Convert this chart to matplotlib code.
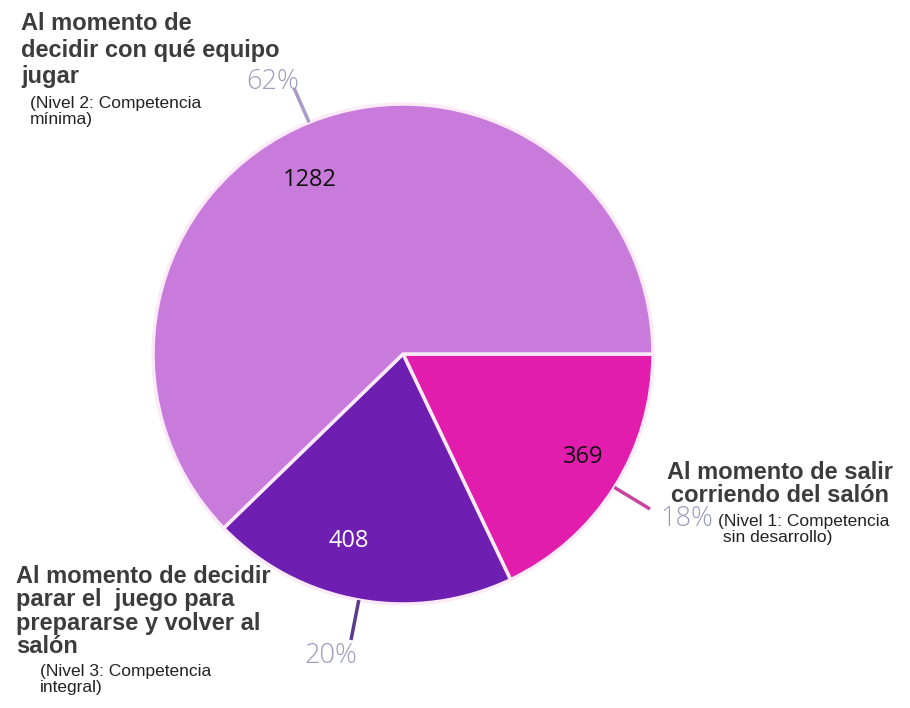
import numpy as np
import matplotlib
matplotlib.use("Agg")
import matplotlib.pyplot as plt

# Data
values = [369, 408, 1282]
pct_labels = ["18%", "20%", "62%"]
titles = ["Al momento de salir\ncorriendo del salón",
          "Al momento de decidir\nparar el  juego para\nprepararse y volver al\nsalón",
          "Al momento de\ndecidir con qué equipo\njugar"]
subtitles = ["(Nivel 1: Competencia\n sin desarrollo)",
             "(Nivel 3: Competencia\nintegral)",
             "(Nivel 2: Competencia\nmínima)"]
colors = ["#E21DAE", "#6E1EB0", "#C97BDC"]
line_colors = ["#C8459E", "#5E3A8E", "#A99BC8"]
value_colors = ["#111111", "#FFFFFF", "#111111"]

W, H = 910, 708
fig = plt.figure(figsize=(W / 100, H / 100), dpi=100)
ax = fig.add_axes([0, 0, 1, 1])

cx, cy, R = 403, H - 354, 250
wedges, _ = ax.pie(values, startangle=0, counterclock=False, colors=colors,
                   center=(cx, cy), radius=R,
                   wedgeprops=dict(edgecolor="#FCEAF8", linewidth=2.5))
ax.set_xlim(0, W)
ax.set_ylim(0, H)
ax.set_aspect("equal")
ax.axis("off")

# value labels inside wedges
val_offsets = [2.5, -6, 6]  # degrees of tweak
val_r = [0.83, 0.78, 0.79]
for i, w in enumerate(wedges):
    mid = np.deg2rad((w.theta1 + w.theta2) / 2 + val_offsets[i])
    ax.text(cx + val_r[i] * R * np.cos(mid), cy + val_r[i] * R * np.sin(mid),
            str(values[i]), ha="center", va="center", fontsize=17,
            color=value_colors[i], family="Open Sans")

# leader lines and percentage labels
pct_pos = [(687, H - 519), (331, H - 656), (273, H - 82)]
line_end = [(650, H - 509), (351, H - 640), (294, H - 88)]
for i, w in enumerate(wedges):
    mid = np.deg2rad((w.theta1 + w.theta2) / 2)
    sx, sy = cx + R * np.cos(mid), cy + R * np.sin(mid)
    ax.plot([sx, line_end[i][0]], [sy, line_end[i][1]], color=line_colors[i], lw=2.5,
            solid_capstyle="butt")
    ax.text(pct_pos[i][0], pct_pos[i][1], pct_labels[i], ha="center", va="center",
            fontsize=19.5, color="#9C9CBD", family="Open Sans", fontweight="light")

tc = "#3C3C3C"
tfs = 17
# titles
ax.text(780, H - 461, titles[0], ha="center", va="top", fontsize=tfs, fontweight="bold",
        color=tc, family="Liberation Sans", linespacing=1.02)
ax.text(16, H - 565, titles[1], ha="left", va="top", fontsize=tfs, fontweight="bold",
        color=tc, family="Liberation Sans", linespacing=1.02)
for k, line in enumerate(titles[2].split("\n")):
    ax.text(21, H - (30 + 26.5 * k), line, ha="left", va="baseline", fontsize=tfs,
            fontweight="bold", color=tc, family="Liberation Sans")
# subtitles
sfs = 12.5
ax.text(718, H - 514, subtitles[0], ha="left", va="top", fontsize=sfs,
        color="#222222", family="Liberation Sans", linespacing=1.1)
ax.text(40, H - 664, subtitles[1], ha="left", va="top", fontsize=sfs,
        color="#222222", family="Liberation Sans", linespacing=1.1)
ax.text(30, H - 96, subtitles[2], ha="left", va="top", fontsize=sfs,
        color="#222222", family="Liberation Sans", linespacing=1.1)

fig.savefig("out.png", dpi=100, facecolor="white")
